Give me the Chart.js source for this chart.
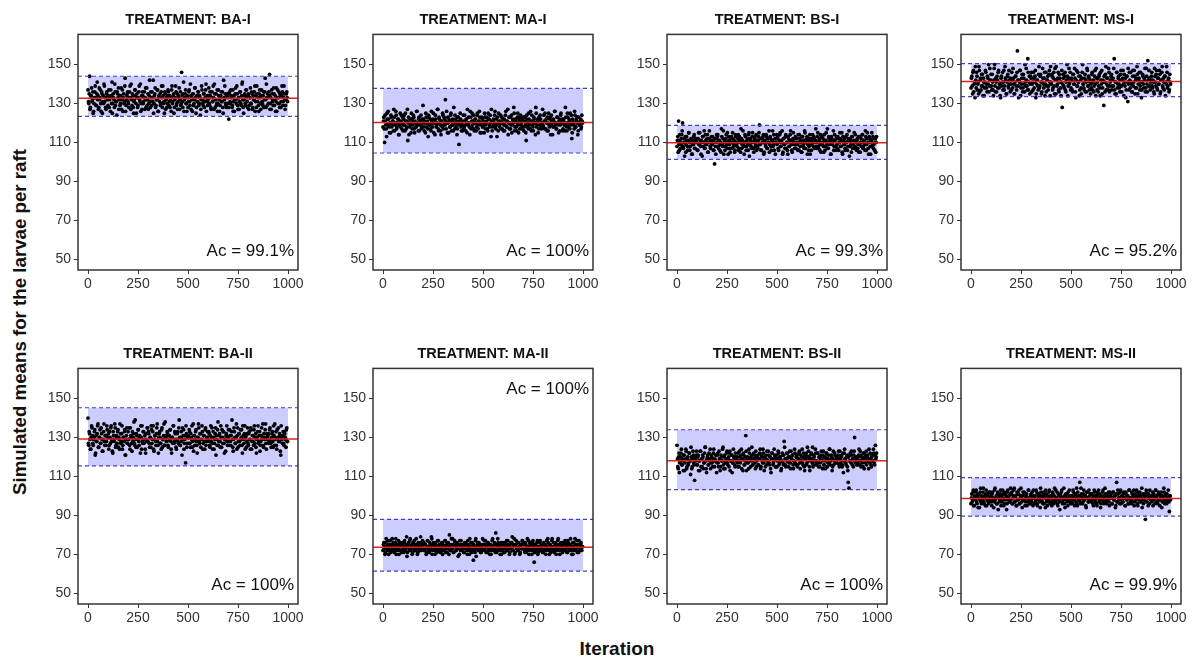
<!DOCTYPE html>
<html><head><meta charset="utf-8">
<script src="https://cdn.jsdelivr.net/npm/chart.js@4/dist/chart.umd.min.js"></script>
<style>
html,body{margin:0;padding:0;background:#fff;overflow:hidden;width:1197px;height:659px;}
body{position:relative;font-family:"Liberation Sans",Arial,sans-serif;}
canvas{position:absolute;}
.ptitle{position:absolute;width:220px;text-align:center;font-weight:bold;font-size:14.5px;color:#111;line-height:15px;white-space:nowrap;}
#ytitle{position:absolute;left:19.5px;top:322px;transform:translate(-50%,-50%) rotate(-90deg);font-weight:bold;font-size:18.7px;color:#111;white-space:nowrap;line-height:20px;}
#xtitle{position:absolute;left:617px;top:649px;transform:translate(-50%,-50%);font-weight:bold;font-size:19px;color:#111;white-space:nowrap;line-height:20px;}
</style></head><body>
<div id="ytitle">Simulated means for the larvae per raft</div>
<div id="xtitle">Iteration</div>
<script>
// ---------- data ----------
const treatments = ["BA-I","MA-I","BS-I","MS-I","BA-II","MA-II","BS-II","MS-II"];
const accuracy = ["99.1%","100%","99.3%","95.2%","100%","100%","100%","99.9%"];
const meanLine = [132.7,120.3,109.8,141.3,129.3,73.7,118.1,98.7];
const upperLimit = [144.0,137.8,118.8,150.5,145.3,88.0,134.0,109.4];
const lowerLimit = [123.4,104.6,101.3,133.5,115.4,61.4,103.2,89.6];
const xTicks = [0,250,500,750,1000];
const yTicks = [50,70,90,110,130,150];
const iterStep = 4;      // iterations 0,4,8,... (set A) and 2,6,10,... (set B)
const iterOffsetB = 2;

// set A: iterations 0,4,8,...
const simBA_I = [137,130,144,128,134,131,136,126,133,139,129,135,132,127,138,133,130,136,125,134,140,131,128,135,133,
129,137,132,126,134,141,130,133,128,136,131,124,135,138,132,129,134,127,137,133,130,139,126,132,135,
131,128,136,133,140,129,134,125,132,137,130,135,128,133,139,131,126,134,136,130,133,127,138,132,129,
135,130,142,128,133,136,131,125,134,138,129,132,137,126,133,135,130,139,128,134,131,136,127,133,130,
137,129,134,132,126,139,131,135,128,133,136,130,127,134,138,132,129,146,131,135,126,133,137,130,134,
128,136,131,140,127,133,135,129,132,138,125,134,131,136,130,133,127,139,132,129,135,131,137,126,134,
132,138,129,134,127,136,131,133,140,128,135,130,126,137,132,129,134,131,136,125,133,139,130,128,135,
133,122,136,130,134,128,137,131,126,135,132,139,129,133,127,136,130,134,141,128,132,135,129,137,131,
134,127,133,138,130,135,128,132,136,126,134,139,131,129,135,133,127,137,130,134,128,136,132,140,129,
133,136,145,130,127,135,132,138,129,134,131,126,137,133,130,135,128,134,136,131,139,132,129,135,133];

const simMA_I = [118,123,110,121,117,125,119,122,115,120,124,118,121,116,123,119,126,117,120,122,114,121,118,124,120,
116,122,119,125,117,121,111,123,118,120,115,122,119,124,117,121,118,126,120,116,123,119,121,117,122,
129,118,121,115,123,120,117,124,119,122,116,121,118,125,120,114,122,119,127,117,123,120,116,121,118,
124,119,122,132,117,120,123,115,121,118,125,119,122,116,120,124,118,121,117,123,109,120,122,116,119,
121,117,124,119,122,115,120,123,118,126,117,121,119,124,116,122,120,118,125,117,121,123,119,115,122,
118,121,125,117,120,123,116,122,119,124,113,121,118,122,120,126,117,119,123,116,121,118,124,120,117,
122,119,116,124,121,118,127,120,117,123,119,115,122,120,125,118,121,116,123,119,122,117,124,120,118,
121,116,123,119,111,122,118,125,120,117,121,124,119,116,122,120,128,118,121,115,123,119,122,117,120,
119,124,117,121,122,116,120,125,118,123,119,121,114,122,118,126,120,117,123,119,121,116,124,120,122,
117,122,119,128,120,116,123,118,121,125,119,112,122,120,117,124,118,121,123,116,120,119,122,118,121];

const simBS_I = [108,113,121,106,111,109,114,120,107,112,110,105,113,108,111,115,106,110,112,104,109,113,107,111,110,
112,106,115,109,111,104,110,113,108,116,107,111,109,114,105,112,110,107,113,109,111,106,99,108,112,
110,114,107,111,109,105,113,108,116,110,106,112,109,115,104,111,107,110,113,107,112,109,105,114,110,
108,112,106,113,110,117,107,111,109,104,114,110,108,112,106,115,109,111,107,113,110,105,112,108,114,
111,107,113,119,109,106,112,110,114,105,111,108,113,107,110,116,109,112,106,111,108,114,110,104,112,
109,113,106,111,115,108,110,104,112,109,107,114,110,106,113,108,111,116,109,105,112,110,107,113,109,
112,106,110,114,108,111,105,113,109,107,115,110,112,104,111,108,114,109,106,112,110,113,107,111,108,
110,115,107,112,109,105,113,110,108,114,106,111,109,117,107,112,110,104,113,109,111,106,114,108,112,
109,113,106,110,112,108,115,104,111,109,107,113,110,106,112,116,108,111,105,113,109,111,107,114,110,
111,107,113,109,105,112,110,114,108,111,106,113,109,115,107,110,112,104,111,108,113,109,106,112,110];

const simMS_I = [138,144,135,147,140,133,142,146,137,141,149,136,143,139,145,134,141,138,147,140,136,143,150,139,142,
145,137,141,134,148,139,143,136,142,146,138,140,133,144,141,137,147,139,143,135,141,145,138,142,136,
140,146,138,143,135,141,144,137,157,139,142,147,134,140,145,138,143,136,141,148,139,153,137,144,140,
143,136,141,146,138,144,133,140,142,137,149,139,145,135,141,143,138,146,140,136,142,144,139,147,134,
141,145,137,143,139,148,135,142,140,146,136,143,138,141,128,145,139,144,137,141,150,134,143,140,146,
138,142,136,145,140,143,133,147,139,141,144,137,142,135,146,140,138,143,136,141,148,139,144,137,142,
140,145,137,142,139,147,134,143,141,136,144,138,146,140,135,142,129,141,145,137,143,139,148,136,141,
144,137,142,139,153,135,141,146,138,143,140,136,145,139,142,147,134,141,143,137,144,131,140,146,138,
141,136,144,139,147,135,142,138,145,140,143,137,146,133,141,144,138,142,136,148,140,152,139,143,137,
142,146,138,141,135,144,139,147,137,143,140,145,136,142,149,138,141,144,134,140,146,139,143,137,141];

const simBA_II = [140,126,132,124,130,135,127,129,133,121,131,128,136,125,130,134,127,132,123,129,137,126,131,128,134,
130,124,133,127,136,129,122,131,128,135,126,130,133,125,129,137,127,132,124,130,128,134,121,131,127,
133,129,126,135,130,123,128,132,127,139,125,131,129,134,126,130,136,124,128,133,127,131,122,129,135,
128,132,125,130,136,127,133,124,129,131,126,135,128,122,132,130,127,134,125,129,137,126,131,128,133,
126,131,129,134,124,130,127,136,128,132,125,129,133,127,139,126,130,128,135,131,124,129,117,132,127,
131,127,133,125,130,136,128,123,131,129,134,126,130,137,128,132,125,129,133,127,131,124,135,128,130,
129,133,126,131,128,135,124,130,127,132,121,129,134,126,131,128,136,125,130,133,127,129,123,132,128,
130,126,134,128,131,139,125,129,133,127,130,124,135,128,132,126,129,134,122,131,127,136,130,125,132,
127,132,129,124,134,128,131,126,136,130,125,129,133,127,131,123,128,135,130,126,132,129,137,124,130,
131,127,134,129,125,132,128,136,126,130,133,124,129,135,128,131,121,130,127,133,126,132,129,134,128];

const simMA_II = [72,76,74,71,78,73,75,70,74,77,72,75,73,76,71,74,78,72,75,73,70,76,74,72,75,
74,71,77,73,75,69,74,76,72,78,73,75,71,74,77,72,75,73,70,76,74,72,79,73,75,
73,76,72,75,70,74,77,73,71,75,74,78,72,76,73,70,75,74,72,77,73,75,71,74,76,
75,72,74,77,73,71,76,74,80,72,75,73,78,71,74,76,72,75,73,69,74,77,72,75,73,
74,71,76,73,75,72,77,74,70,73,76,72,75,67,74,71,78,73,75,72,76,74,71,73,75,
72,75,73,77,71,74,76,72,75,73,70,74,78,72,75,73,81,71,74,76,72,75,73,70,74,
76,73,71,75,74,72,77,73,70,75,73,76,72,74,78,71,75,73,76,72,74,70,75,73,77,
73,75,72,76,71,74,73,77,72,75,74,70,76,73,66,75,72,74,77,71,73,76,72,75,74,
71,76,73,75,72,74,78,73,70,75,73,77,72,74,71,76,73,75,72,78,74,70,75,73,76,
74,72,76,73,75,71,77,74,72,75,73,70,76,74,72,78,73,75,71,74,77,72,75,73,74];

const simBS_II = [126,115,120,112,118,122,116,119,113,121,117,124,114,119,116,122,118,111,120,115,123,117,108,119,121,
116,120,113,118,123,115,119,121,114,117,125,118,112,120,116,122,119,114,121,117,119,124,115,118,121,
117,122,115,119,113,121,118,124,116,120,114,118,122,117,119,115,123,118,121,112,117,120,116,122,119,
120,115,118,123,117,121,114,119,122,116,118,131,113,120,117,124,119,115,121,118,116,122,119,114,120,
118,121,116,119,124,115,120,117,122,113,119,121,116,118,123,117,120,114,119,122,116,118,121,115,119,
115,119,122,117,120,113,118,121,116,128,119,115,122,118,120,117,123,114,119,121,116,118,124,117,120,
121,116,119,123,114,118,120,117,122,115,119,121,116,125,118,120,113,119,122,117,115,121,118,124,116,
118,122,115,120,117,121,119,114,123,116,118,120,122,115,119,117,124,118,121,113,119,116,122,118,120,
117,120,123,115,119,118,121,116,112,122,119,117,120,115,107,104,121,118,123,116,119,121,130,117,120,
119,116,121,118,123,115,120,117,122,114,119,121,116,120,118,124,117,119,115,121,118,122,116,126,120];

const simMS_II = [96,101,98,103,95,99,102,97,100,94,101,98,104,96,99,102,97,100,95,103,98,101,96,99,102,
100,95,102,98,97,104,99,96,101,93,100,98,103,97,99,101,95,102,98,100,96,103,99,97,101,
98,102,96,100,104,97,99,95,101,98,103,96,100,99,94,102,98,101,97,100,95,99,103,98,96,
101,97,99,103,96,100,98,102,95,99,101,97,104,98,100,96,102,99,94,101,97,100,98,103,96,
99,95,102,98,100,97,103,99,96,101,98,93,100,102,97,99,104,96,100,98,101,95,99,103,97,
100,98,96,102,99,101,97,104,95,100,98,107,96,101,99,97,103,98,100,94,99,102,97,100,98,
97,101,99,95,103,98,100,96,102,99,97,101,94,100,98,103,96,99,101,97,100,98,102,95,99,
101,96,99,102,98,100,95,107,97,101,99,96,103,98,100,97,102,99,95,101,98,100,96,103,99,
98,102,97,100,95,101,99,103,96,100,98,102,97,99,94,101,98,100,88,103,97,99,101,96,100,
99,97,102,98,100,96,103,99,97,101,98,95,100,102,97,99,104,96,100,98,101,97,99,92,100];

// set B: iterations 2,6,10,...
const simBA_I_b = [131,135,127,134,138,132,125,130,136,133,129,141,134,128,132,137,126,135,131,130,139,133,127,136,132,
134,128,133,137,130,125,135,132,140,129,131,136,133,127,134,130,138,132,126,135,131,143,129,134,136,
130,133,139,127,132,135,128,131,137,134,125,133,129,136,132,140,130,127,134,131,136,133,128,138,132,
127,134,131,136,129,133,142,130,135,128,132,137,126,134,131,129,136,133,139,130,125,135,132,128,134,
136,131,128,133,137,130,134,125,132,139,129,135,131,133,127,136,130,134,128,141,132,135,130,126,133,
131,137,129,134,132,126,135,130,138,133,128,131,136,129,134,124,132,137,130,135,128,133,140,131,129,
134,130,136,128,133,131,139,127,135,132,129,137,130,134,126,133,136,131,128,142,132,135,129,134,130,
128,135,131,137,133,129,126,134,132,138,130,135,127,133,131,136,129,140,132,125,134,130,137,133,128,
135,129,133,130,136,127,134,132,139,131,128,135,133,126,137,130,134,131,129,136,132,143,128,133,135,
130,134,127,133,137,131,129,135,132,126,138,133,130,136,128,134,131,139,129,133,135,127,132,136,131];

const simMA_I_b = [121,117,124,119,113,122,126,118,120,115,123,119,121,127,116,120,124,118,122,114,119,125,121,117,123,
119,124,116,121,118,127,120,114,122,119,125,117,121,123,115,120,118,126,119,122,116,121,124,118,120,
122,116,120,125,118,121,113,123,119,117,126,120,122,115,121,124,118,120,127,116,122,119,114,121,125,
117,123,119,121,126,115,120,122,118,124,116,121,119,128,117,122,120,114,123,119,121,125,118,120,116,
124,118,121,116,122,127,119,120,114,123,118,125,121,117,120,122,116,124,119,121,126,115,120,123,118,
120,115,123,119,121,117,125,122,118,120,127,116,121,119,124,118,122,113,120,125,119,121,117,123,120,
116,122,119,126,118,121,114,123,120,117,124,119,121,128,116,122,118,120,125,115,121,123,119,117,122,
123,118,121,115,124,120,117,122,119,126,116,121,118,123,120,114,125,119,122,117,121,124,118,120,127,
118,121,125,117,120,123,116,119,122,114,124,120,118,121,126,119,117,123,120,115,122,119,125,121,116,
121,119,116,123,118,125,120,122,117,120,124,115,121,119,126,118,122,120,114,123,119,121,117,124,120];

const simBS_I_b = [111,105,109,114,107,112,116,108,110,103,113,109,111,106,115,110,108,112,104,111,109,114,107,112,110,
106,112,109,115,108,111,103,113,110,107,114,109,112,105,110,116,108,111,109,113,106,110,112,104,114,
113,108,111,106,110,117,109,112,104,111,108,114,110,107,113,109,105,112,110,115,108,111,106,113,109,
110,114,107,111,105,112,109,116,108,110,113,106,111,109,114,103,112,108,110,115,107,111,113,109,106,
108,111,115,109,112,106,110,113,104,111,109,114,107,112,110,105,113,108,111,116,109,106,112,110,114,
112,107,110,114,108,111,116,105,112,109,113,107,110,104,112,108,114,110,106,111,115,109,112,107,110,
109,114,106,112,110,105,113,108,111,116,107,110,113,109,106,112,104,111,109,114,108,112,110,117,107,
113,108,111,106,114,110,109,112,105,111,108,115,110,107,113,109,111,104,112,110,116,108,111,106,113,
107,112,110,115,108,111,105,113,109,112,106,110,114,108,111,103,112,109,113,107,110,115,108,111,106,
112,109,105,113,110,108,114,107,111,109,116,106,112,110,104,113,108,111,115,109,107,112,110,105,113];

const simMS_I_b = [143,139,146,136,141,149,138,144,140,135,147,142,137,145,139,143,134,141,146,138,144,140,136,148,142,
139,145,137,142,150,136,141,144,138,147,140,134,143,139,146,141,137,149,142,135,144,139,147,140,143,
137,142,148,140,135,144,139,146,142,133,141,147,138,143,136,145,140,150,139,142,137,146,141,135,144,
146,140,137,143,141,147,135,142,139,145,138,144,141,136,148,140,143,134,146,139,142,137,145,141,149,
140,144,138,146,135,142,149,139,143,137,145,141,134,147,140,143,138,146,136,142,144,139,148,141,137,
143,137,145,140,148,136,142,139,146,141,134,144,138,143,150,140,137,145,142,136,147,139,143,141,135,
138,146,141,136,144,140,148,137,143,139,145,134,142,147,138,141,144,136,149,140,143,137,146,139,142,
145,139,143,148,137,141,135,146,140,144,138,142,147,136,143,140,145,139,133,144,141,148,137,142,146,
140,136,147,141,144,138,143,149,135,142,146,139,141,137,145,140,143,148,138,144,136,142,147,139,141,
144,139,142,136,148,141,145,138,143,140,147,135,142,146,139,143,137,144,141,149,138,142,136,145,140];

const simBA_II_b = [127,133,129,124,136,131,126,130,134,122,128,132,137,125,130,127,135,129,123,133,128,131,126,136,130,
132,126,130,135,128,123,133,129,137,125,131,127,134,130,124,132,128,136,126,130,133,121,129,135,127,
129,135,124,131,127,133,130,138,126,129,132,125,134,128,131,122,130,136,127,133,129,124,132,128,135,
133,127,130,125,134,129,136,123,131,128,132,137,126,130,133,127,124,135,129,131,126,138,130,128,132,
125,131,134,128,122,130,136,127,133,129,124,132,128,135,130,126,133,121,129,134,127,131,136,125,130,
130,134,127,132,129,125,137,131,126,133,128,122,130,135,127,132,129,136,124,131,128,134,126,130,133,
128,132,125,136,130,127,133,124,129,135,131,126,138,128,132,125,130,134,127,133,122,129,131,136,126,
134,128,131,126,133,129,123,135,130,127,137,131,125,132,128,134,130,126,136,129,132,124,131,128,135,
126,133,129,135,124,131,128,134,127,132,122,130,136,128,133,126,131,129,137,125,130,134,127,132,129,
132,128,135,127,130,133,125,131,137,129,126,134,130,128,132,123,136,129,131,127,133,130,125,135,128];

const simMA_II_b = [75,73,70,76,74,72,77,73,75,71,74,78,72,75,73,76,70,74,73,77,72,75,74,71,76,
73,76,72,74,79,71,75,73,77,72,74,70,76,73,75,72,78,74,71,75,73,76,72,74,77,
76,72,75,73,71,77,74,72,76,73,79,70,75,74,72,76,73,71,77,74,75,72,73,76,70,
72,74,77,71,75,73,76,70,74,72,78,73,75,71,77,74,72,76,73,75,70,74,77,72,75,
75,71,74,76,73,70,75,72,78,74,71,76,73,75,72,77,69,74,76,73,72,75,71,74,78,
73,77,72,75,74,71,76,73,70,75,72,77,74,73,76,71,75,72,78,74,73,70,76,72,75,
74,71,76,73,77,72,75,74,71,76,73,79,72,75,70,74,77,73,72,76,74,71,75,73,77,
76,73,71,75,72,78,74,70,76,73,75,72,77,74,71,75,73,76,70,74,72,77,73,75,71,
72,75,74,70,77,73,76,72,75,71,74,78,73,76,72,75,70,74,77,73,75,72,76,74,71,
75,73,77,72,74,71,76,73,75,78,72,74,70,76,73,75,72,77,74,71,75,73,76,72,74];

const simBS_II_b = [119,114,122,117,120,124,116,118,121,113,119,123,115,120,117,122,118,125,114,119,121,116,120,118,123,
116,121,118,113,123,119,115,120,117,122,125,114,119,121,116,118,124,117,120,115,122,118,119,121,112,
121,117,123,119,115,120,118,125,114,121,117,119,123,116,120,122,113,118,121,117,124,119,115,120,118,
117,122,115,120,118,124,119,113,121,116,120,123,117,119,114,122,118,120,125,116,119,121,117,123,115,
120,116,119,122,114,121,118,124,117,120,115,119,123,118,121,116,120,112,122,119,117,124,120,115,121,
118,123,116,120,119,114,122,117,121,125,116,119,118,122,115,120,117,123,119,121,114,118,122,116,120,
115,119,122,117,121,118,124,116,120,113,119,122,117,120,123,115,121,118,119,125,116,120,118,122,117,
122,117,120,115,119,123,118,121,116,120,114,122,119,117,121,124,116,119,120,115,123,118,121,117,119,
119,121,116,123,117,120,115,122,118,124,119,116,121,113,120,118,122,117,121,119,115,123,118,120,116,
117,120,124,116,121,118,119,115,122,120,117,123,118,121,114,119,122,116,120,118,124,117,121,119,122];

const simMS_II_b = [99,97,102,95,100,98,103,96,101,99,94,102,97,100,98,104,96,99,101,95,100,97,102,98,100,
97,101,99,94,103,98,100,96,102,99,97,101,95,100,103,98,96,101,99,93,102,98,100,97,104,
101,96,99,103,97,100,95,102,98,101,96,99,104,97,100,98,102,95,99,101,97,103,98,96,100,
98,102,95,100,99,97,103,96,101,98,100,94,102,99,97,101,96,100,103,98,95,99,102,97,100,
100,97,101,96,104,99,98,102,95,100,97,101,99,103,96,98,100,94,101,99,97,102,98,100,96,
97,100,103,98,95,101,99,96,102,98,100,97,104,99,96,101,98,100,95,102,99,97,103,98,101,
101,98,96,100,102,97,99,95,101,103,98,100,96,99,102,97,100,104,98,96,101,99,97,102,100,
99,96,102,98,100,94,101,97,103,99,98,102,96,100,97,101,99,95,102,98,100,96,103,99,97,
96,101,99,103,97,100,98,102,95,99,101,97,100,104,98,96,101,99,97,102,100,95,99,103,98,
100,98,95,101,99,103,97,100,96,102,98,101,99,94,100,97,102,98,101,96,99,103,97,100,98];

const simSeriesA = [simBA_I, simMA_I, simBS_I, simMS_I, simBA_II, simMA_II, simBS_II, simMS_II];
const simSeriesB = [simBA_I_b, simMA_I_b, simBS_I_b, simMS_I_b, simBA_II_b, simMA_II_b, simBS_II_b, simMS_II_b];

// ---------- layout / style ----------
const FONT = '"Liberation Sans", Arial, sans-serif';
Chart.defaults.font.family = FONT;
const colLeft = [78, 373, 667, 961];
const rowTop = [33, 367];
const AREA_W = 220, AREA_H = 237;
const Y_AXIS_W = 50, X_AXIS_H = 28, PAD_TOP = 10, PAD_RIGHT = 20, PAD_BOTTOM = 15;
const CW = Y_AXIS_W + AREA_W + PAD_RIGHT, CH = PAD_TOP + AREA_H + X_AXIS_H + PAD_BOTTOM;
const acLabelY = [54, 54, 54, 54, 54, 155, 54, 54];

const acLabelPlugin = {
  id: 'acLabel',
  afterDatasetsDraw(chart, args, opts) {
    const {ctx, scales: {x, y}} = chart;
    ctx.save();
    ctx.font = '17px ' + FONT;
    ctx.fillStyle = '#111';
    ctx.textAlign = 'right';
    ctx.textBaseline = 'middle';
    ctx.fillText('Ac = ' + opts.text, x.getPixelForValue(1030), y.getPixelForValue(opts.y));
    ctx.restore();
  }
};
const framePlugin = {
  id: 'frame',
  afterDraw(chart) {
    const a = chart.chartArea, ctx = chart.ctx;
    ctx.save();
    ctx.strokeStyle = '#333';
    ctx.lineWidth = 1.5;
    ctx.strokeRect(a.left, a.top, a.right - a.left, a.bottom - a.top);
    ctx.restore();
  }
};

for (let p = 0; p < 8; p++) {
  const col = p % 4, row = Math.floor(p / 4);
  const L = colLeft[col], T = rowTop[row];
  const canvas = document.createElement('canvas');
  canvas.width = CW; canvas.height = CH;
  canvas.style.left = (L - Y_AXIS_W) + 'px';
  canvas.style.top = (T - PAD_TOP) + 'px';
  canvas.style.width = CW + 'px'; canvas.style.height = CH + 'px';
  document.body.appendChild(canvas);

  const title = document.createElement('div');
  title.className = 'ptitle';
  title.textContent = 'TREATMENT: ' + treatments[p];
  title.style.left = L + 'px';
  title.style.top = (T - 21.5) + 'px';
  document.body.appendChild(title);

  const pts = simSeriesA[p].map((v, i) => ({x: i * iterStep, y: v}))
    .concat(simSeriesB[p].map((v, i) => ({x: i * iterStep + iterOffsetB, y: v})));
  const hline = v => [{x: -50, y: v}, {x: 1050, y: v}];

  new Chart(canvas, {
    type: 'scatter',
    data: {
      datasets: [
        {type: 'line', data: [{x: 0, y: upperLimit[p]}, {x: 1000, y: upperLimit[p]}],
         borderWidth: 0, pointRadius: 0, fill: {value: lowerLimit[p]},
         backgroundColor: 'rgb(204,204,255)', order: 5},
        {type: 'scatter', data: pts, pointRadius: 1.9, pointBackgroundColor: '#000',
         pointBorderWidth: 0, borderColor: '#000', order: 3},
        {type: 'line', data: hline(meanLine[p]), borderColor: '#e02222', borderWidth: 1.5,
         pointRadius: 0, fill: false, order: 2},
        {type: 'line', data: hline(upperLimit[p]), borderColor: '#4040cc', borderWidth: 1.2,
         borderDash: [4, 3], pointRadius: 0, fill: false, order: 1},
        {type: 'line', data: hline(lowerLimit[p]), borderColor: '#4040cc', borderWidth: 1.2,
         borderDash: [4, 3], pointRadius: 0, fill: false, order: 1}
      ]
    },
    options: {
      responsive: false, animation: false, devicePixelRatio: 1,
      layout: {padding: {left: 0, top: PAD_TOP, right: PAD_RIGHT, bottom: PAD_BOTTOM}},
      plugins: {legend: {display: false}, tooltip: {enabled: false},
                acLabel: {text: accuracy[p], y: acLabelY[p]}},
      events: [],
      scales: {
        x: {type: 'linear', min: -50, max: 1050,
            afterBuildTicks: s => { s.ticks = xTicks.map(v => ({value: v})); },
            afterFit: s => { s.height = X_AXIS_H; },
            grid: {display: true, drawOnChartArea: false, drawTicks: true, tickLength: 4, color: '#333', lineWidth: 1},
            border: {display: false},
            ticks: {color: '#333', font: {size: 14}, padding: 2, maxRotation: 0, autoSkip: false,
                    callback: v => String(v)}},
        y: {type: 'linear', min: 44.5, max: 165.5,
            afterBuildTicks: s => { s.ticks = yTicks.map(v => ({value: v})); },
            afterFit: s => { s.width = Y_AXIS_W; },
            grid: {display: true, drawOnChartArea: false, drawTicks: true, tickLength: 4, color: '#333', lineWidth: 1},
            border: {display: false},
            ticks: {color: '#333', font: {size: 14}, padding: 3, autoSkip: false,
                    callback: v => String(v)}}
      }
    },
    plugins: [acLabelPlugin, framePlugin]
  });
}
</script>
</body></html>
